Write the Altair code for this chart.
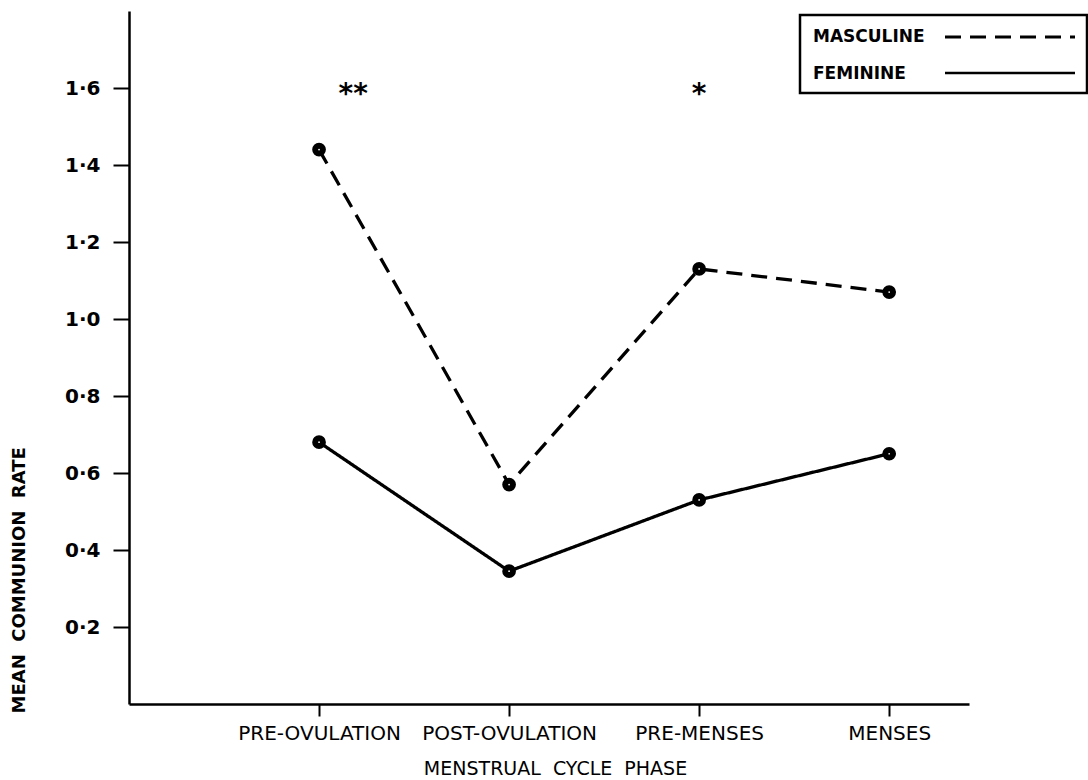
import altair as alt
import pandas as pd

# Menstrual cycle phases and mean communion rates per group
phases = ["PRE-OVULATION", "POST-OVULATION", "PRE-MENSES", "MENSES"]
phase_pos = [1, 2, 3, 4]
masculine = [1.44, 0.57, 1.13, 1.07]
feminine = [0.68, 0.345, 0.53, 0.65]

# Significance markers above the phases
star_pos = [1.18, 3.0]
star_val = [1.6, 1.6]
star_txt = ["**", "*"]

y_ticks = [0.2, 0.4, 0.6, 0.8, 1.0, 1.2, 1.4, 1.6]

FONT = "DejaVu Sans"
SP = "\u00a0\u00a0"  # wide gap between title words

rows = []
for p, n, m, f in zip(phase_pos, phases, masculine, feminine):
    rows.append({"pos": p, "phase": n, "group": "MASCULINE", "rate": m})
    rows.append({"pos": p, "phase": n, "group": "FEMININE", "rate": f})
df = pd.DataFrame(rows)
stars = pd.DataFrame({"pos": star_pos, "rate": star_val, "txt": star_txt})

label_map = "{" + ",".join(f"'{p}':'{n}'" for p, n in zip(phase_pos, phases)) + "}"

x_enc = alt.X(
    "pos:Q",
    scale=alt.Scale(domain=[0, 4.42], nice=False, zero=False),
    axis=alt.Axis(
        values=phase_pos,
        labelExpr=f"{label_map}[datum.value]",
        title=SP.join(["MENSTRUAL", "CYCLE", "PHASE"]),
        titleFont=FONT, titleFontSize=19, titleFontWeight="normal", titleColor="black",
        titleX=426, titleY=64, titleBaseline="middle", titleAnchor="middle",
        labelFont=FONT, labelFontSize=20, labelColor="black", labelPadding=7,
        labelFlush=False, labelOverlap=False,
        domainColor="black", domainWidth=2.5,
        tickColor="black", tickWidth=2, tickSize=12,
        grid=False,
    ),
)
y_enc = alt.Y(
    "rate:Q",
    scale=alt.Scale(domain=[0, 1.8], nice=False),
    axis=alt.Axis(
        values=y_ticks,
        labelExpr="replace(format(datum.value, '.1f'), '.', '·')",
        title=SP.join(["MEAN", "COMMUNION", "RATE"]),
        titleFont=FONT, titleFontSize=18, titleFontWeight="bold", titleColor="black",
        titleAngle=270, titleX=-110, titleY=702, titleAlign="left", titleBaseline="middle",
        labelFont=FONT, labelFontSize=20, labelFontWeight="bold", labelColor="black",
        labelPadding=13,
        domainColor="black", domainWidth=2.5,
        tickColor="black", tickWidth=2, tickSize=16,
        grid=False,
    ),
)

base = alt.Chart(df)

lines = base.mark_line(color="black", strokeWidth=3.3).encode(
    x=x_enc,
    y=y_enc,
    strokeDash=alt.StrokeDash(
        "group:N",
        scale=alt.Scale(domain=["MASCULINE", "FEMININE"], range=[[16, 9], [1, 0]]),
        legend=None,
    ),
    detail="group:N",
)

points = base.mark_point(
    filled=False, fill="white", fillOpacity=1, stroke="black", strokeWidth=6, size=60, opacity=1
).encode(x="pos:Q", y="rate:Q")

star_marks = alt.Chart(stars).mark_text(
    font=FONT, fontSize=28, fontWeight="bold", color="black", baseline="middle", dy=7
).encode(x="pos:Q", y="rate:Q", text="txt:N")

# Boxed key in the upper right corner: label first, line sample after it
one = pd.DataFrame({"k": [0]})
key_box = alt.Chart(one).mark_rect(fill="white", stroke="black", strokeWidth=2.5).encode(
    x=alt.value(671), x2=alt.value(958), y=alt.value(4), y2=alt.value(82)
)
key_text_m = alt.Chart(one).mark_text(
    font=FONT, fontSize=17, fontWeight="bold", align="left", baseline="middle", color="black", text="MASCULINE"
).encode(x=alt.value(684), y=alt.value(26))
key_text_f = alt.Chart(one).mark_text(
    font=FONT, fontSize=17, fontWeight="bold", align="left", baseline="middle", color="black", text="FEMININE"
).encode(x=alt.value(684), y=alt.value(63))
key_line_m = alt.Chart(one).mark_rule(color="black", strokeWidth=3, strokeDash=[16, 9]).encode(
    x=alt.value(816), x2=alt.value(946), y=alt.value(26)
)
key_line_f = alt.Chart(one).mark_rule(color="black", strokeWidth=2.5).encode(
    x=alt.value(816), x2=alt.value(946), y=alt.value(62)
)

chart = (
    alt.layer(lines, points, star_marks, key_box, key_text_m, key_text_f, key_line_m, key_line_f)
    .properties(
        width=840,
        height=693,
        autosize=alt.AutoSizeParams(type="none"),
        padding={"left": 129, "top": 11, "right": 119, "bottom": 76},
    )
    .configure(background="white", view=alt.ViewConfig(strokeWidth=0, stroke="transparent"))
)

chart.save("out.html", embed_options={"renderer": "svg", "actions": False})
